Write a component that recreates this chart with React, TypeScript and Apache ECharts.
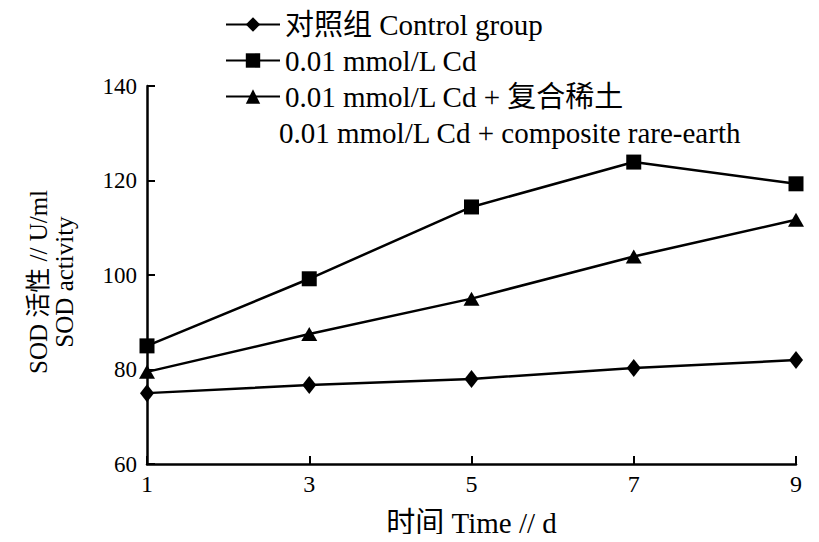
import React, { useEffect, useRef } from "react";
import * as echarts from "echarts";

const days = ["1", "3", "5", "7", "9"];
const controlGroup = [75.0, 76.7, 78.0, 80.3, 82.0];
const cdGroup = [85.0, 99.2, 114.4, 123.9, 119.3];
const cdRareEarth = [79.5, 87.5, 95.0, 103.9, 111.7];
const seriesNames = [
  "对照组 Control group",
  "0.01 mmol/L Cd",
  "0.01 mmol/L Cd + 复合稀土",
];
const extraLegendLine = "0.01 mmol/L Cd + composite rare-earth";
const xAxisName = "时间 Time // d";
const yAxisName = "SOD 活性 // U/ml\nSOD activity";

const FONT = "'Liberation Serif', 'Noto Sans CJK SC', serif";

export default function App() {
  const ref = useRef<HTMLDivElement>(null);
  useEffect(() => {
    if (!ref.current) return;
    const chart = echarts.init(ref.current, null, { renderer: "svg" });
    const mk = (name: string, data: number[], symbol: string, size: any) => ({
      name,
      type: "line",
      data,
      symbol,
      symbolSize: size,
      showSymbol: true,
      lineStyle: { color: "#000", width: 2.5 },
      itemStyle: { color: "#000", borderWidth: 0 },
      emphasis: { disabled: true },
    });
    chart.setOption({
      animation: false,
      backgroundColor: "#fff",
      textStyle: { fontFamily: FONT, color: "#000" },
      grid: { left: 147, right: 23, top: 86, bottom: 78, containLabel: false },
      legend: {
        orient: "vertical",
        left: 220,
        top: 5,
        itemWidth: 54,
        itemHeight: 18,
        itemGap: 7,
        textStyle: { fontFamily: FONT, fontSize: 29, lineHeight: 29, color: "#000" },
        data: seriesNames,
      },
      graphic: [
        {
          type: "text",
          left: 279,
          top: 118,
          style: {
            text: extraLegendLine,
            font: `29px ${FONT}`,
            fill: "#000",
          },
        },
      ],
      xAxis: {
        type: "category",
        data: days,
        boundaryGap: false,
        name: xAxisName,
        nameLocation: "middle",
        nameGap: 44,
        nameTextStyle: { fontFamily: FONT, fontSize: 29, color: "#000" },
        axisLine: { lineStyle: { color: "#000", width: 2.5 } },
        axisTick: { inside: true, length: 8, lineStyle: { color: "#000", width: 2 } },
        axisLabel: { fontFamily: FONT, fontSize: 24, color: "#000", margin: 8 },
        splitLine: { show: false },
      },
      yAxis: {
        type: "value",
        min: 60,
        max: 140,
        interval: 20,
        name: yAxisName,
        nameLocation: "middle",
        nameRotate: 90,
        nameGap: 70,
        nameTextStyle: {
          fontFamily: FONT,
          fontSize: 25,
          color: "#000",
          lineHeight: 26,
          padding: [0, 14, 0, 0],
        },
        axisLine: { show: true, lineStyle: { color: "#000", width: 2.5 } },
        axisTick: { show: true, inside: true, length: 8, lineStyle: { color: "#000", width: 2 } },
        axisLabel: { fontFamily: FONT, fontSize: 23, color: "#000", margin: 10 },
        splitLine: { show: false },
      },
      series: [
        mk(seriesNames[0], controlGroup, "diamond", [14, 18]),
        mk(seriesNames[1], cdGroup, "rect", 15),
        mk(seriesNames[2], cdRareEarth, "triangle", [16, 14]),
      ],
    });
    return () => chart.dispose();
  }, []);
  return <div ref={ref} style={{ width: 819, height: 542, margin: -8 }} />;
}
